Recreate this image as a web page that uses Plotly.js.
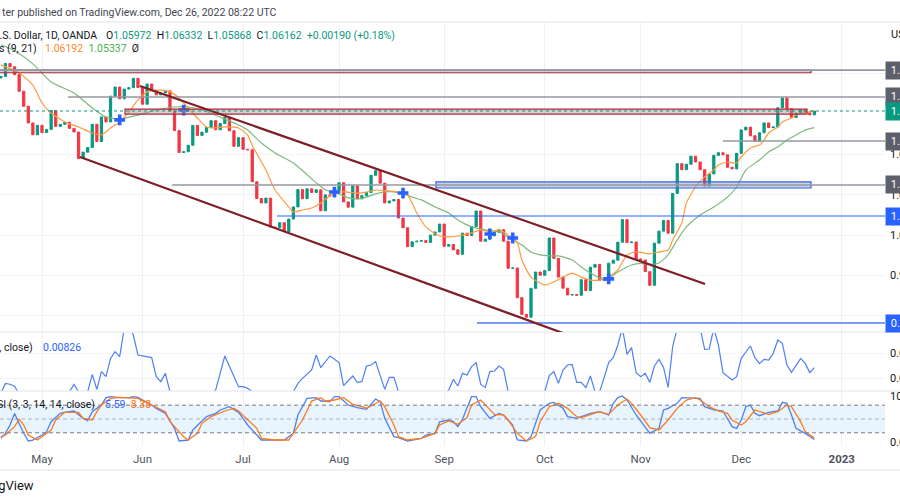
<!DOCTYPE html>
<html>
<head>
<meta charset="utf-8">
<script src="https://cdn.plot.ly/plotly-3.0.1.min.js"></script>
<style>
html, body { margin: 0; padding: 0; background: #ffffff; }
#chart { width: 900px; height: 500px; }
</style>
</head>
<body>
<div id="chart"></div>
<script>
// EUR/USD daily candles (OANDA), first bar 2022-04-18, one value per trading day
var firstDay = '2022-04-18';

var opens = [
  1.0808, 1.0780, 1.0788, 1.0852, 1.0836, 1.0797, 1.0714, 1.0640, 1.0557, 1.0498,
  1.0545, 1.0509, 1.0525, 1.0618, 1.0540, 1.0550, 1.0560, 1.0530, 1.0512, 1.0380,
  1.0412, 1.0435, 1.0550, 1.0465, 1.0587, 1.0562, 1.0690, 1.0735, 1.0677, 1.0725,
  1.0732, 1.0778, 1.0733, 1.0650, 1.0750, 1.0719, 1.0696, 1.0706, 1.0716, 1.0617,
  1.0519, 1.0410, 1.0414, 1.0446, 1.0545, 1.0495, 1.0511, 1.0535, 1.0568, 1.0523,
  1.0554, 1.0584, 1.0518, 1.0441, 1.0484, 1.0426, 1.0424, 1.0265, 1.0182, 1.0160,
  1.0184, 1.0040, 1.0037, 1.0062, 1.0018, 1.0080, 1.0140, 1.0226, 1.0181, 1.0230,
  1.0212, 1.0225, 1.0121, 1.0200, 1.0196, 1.0220, 1.0260, 1.0165, 1.0139, 1.0245,
  1.0180, 1.0196, 1.0212, 1.0297, 1.0320, 1.0258, 1.0160, 1.0170, 1.0177, 1.0085,
  1.0037, 0.9943, 0.9967, 0.9970, 0.9973, 0.9964, 1.0000, 1.0016, 1.0055, 0.9945,
  0.9954, 0.9927, 0.9905, 1.0010, 0.9998, 1.0042, 1.0120, 0.9970, 0.9980, 0.9997,
  1.0014, 1.0027, 0.9970, 0.9836, 0.9837, 0.9690, 0.9607, 0.9593, 0.9736, 0.9817,
  0.9801, 0.9824, 0.9986, 0.9885, 0.9792, 0.9737, 0.9703, 0.9705, 0.9702, 0.9779,
  0.9725, 0.9841, 0.9855, 0.9776, 0.9779, 0.9861, 0.9876, 0.9965, 1.0077, 0.9963,
  0.9966, 0.9882, 0.9877, 0.9819, 0.9751, 0.9960, 1.0020, 1.0073, 1.0010, 1.0207,
  1.0355, 1.0325, 1.0352, 1.0392, 1.0363, 1.0325, 1.0244, 1.0304, 1.0396, 1.0409,
  1.0399, 1.0337, 1.0329, 1.0406, 1.0522, 1.0536, 1.0493, 1.0466, 1.0508, 1.0557,
  1.0534, 1.0537, 1.0632, 1.0681, 1.0627, 1.0584, 1.0606, 1.0622, 1.0607, 1.05972
];
var closes = [
  1.0780, 1.0788, 1.0852, 1.0836, 1.0797, 1.0714, 1.0640, 1.0557, 1.0498, 1.0545,
  1.0509, 1.0525, 1.0618, 1.0540, 1.0550, 1.0560, 1.0530, 1.0512, 1.0380, 1.0412,
  1.0435, 1.0550, 1.0465, 1.0587, 1.0562, 1.0690, 1.0735, 1.0677, 1.0725, 1.0732,
  1.0778, 1.0733, 1.0650, 1.0750, 1.0719, 1.0696, 1.0706, 1.0716, 1.0617, 1.0519,
  1.0410, 1.0414, 1.0446, 1.0545, 1.0495, 1.0511, 1.0535, 1.0568, 1.0523, 1.0554,
  1.0584, 1.0518, 1.0441, 1.0484, 1.0426, 1.0424, 1.0265, 1.0182, 1.0160, 1.0184,
  1.0040, 1.0037, 1.0062, 1.0018, 1.0080, 1.0140, 1.0226, 1.0181, 1.0230, 1.0212,
  1.0225, 1.0121, 1.0200, 1.0196, 1.0220, 1.0260, 1.0165, 1.0139, 1.0245, 1.0180,
  1.0196, 1.0212, 1.0297, 1.0320, 1.0258, 1.0160, 1.0170, 1.0177, 1.0085, 1.0037,
  0.9943, 0.9967, 0.9970, 0.9973, 0.9964, 1.0000, 1.0016, 1.0055, 0.9945, 0.9954,
  0.9927, 0.9905, 1.0010, 0.9998, 1.0042, 1.0120, 0.9970, 0.9980, 0.9997, 1.0014,
  1.0027, 0.9970, 0.9836, 0.9837, 0.9690, 0.9607, 0.9593, 0.9736, 0.9817, 0.9801,
  0.9824, 0.9986, 0.9885, 0.9792, 0.9737, 0.9703, 0.9705, 0.9702, 0.9779, 0.9725,
  0.9841, 0.9855, 0.9776, 0.9779, 0.9861, 0.9876, 0.9965, 1.0077, 0.9963, 0.9966,
  0.9882, 0.9877, 0.9819, 0.9751, 0.9960, 1.0020, 1.0073, 1.0010, 1.0207, 1.0355,
  1.0325, 1.0352, 1.0392, 1.0363, 1.0325, 1.0244, 1.0304, 1.0396, 1.0409, 1.0399,
  1.0337, 1.0329, 1.0406, 1.0522, 1.0536, 1.0493, 1.0466, 1.0508, 1.0557, 1.0534,
  1.0537, 1.0632, 1.0681, 1.0627, 1.0584, 1.0606, 1.0622, 1.0607, 1.0597, 1.06162
];

// indicator lines: bar number (0 = first bar) and value
var ema9Bar = [1, 5, 8, 10, 12, 15, 18, 21, 23, 25, 27, 29, 31, 33, 36, 38, 40, 42, 44, 46, 48, 50, 53, 55, 56, 59, 61, 64, 65, 67, 69, 71, 73, 75, 77, 79, 81, 83, 86, 88, 90, 92, 94, 97, 99, 101, 104, 106, 108, 110, 112, 114, 115, 117, 120, 122, 124, 126, 128, 130, 132, 134, 136, 138, 140, 143, 145, 147, 148, 150, 151, 153, 155, 157, 158, 160, 162, 163, 165, 167, 168, 169, 171, 172, 174, 175, 177, 179];
var ema9Val = [1.0845, 1.0805, 1.0745, 1.0656, 1.0606, 1.0562, 1.0537, 1.0507, 1.0497, 1.0532, 1.0562, 1.0611, 1.0671, 1.0711, 1.0720, 1.0711, 1.0681, 1.0631, 1.0581, 1.0537, 1.0532, 1.0537, 1.0532, 1.0497, 1.0445, 1.0323, 1.0224, 1.0140, 1.0115, 1.0125, 1.0135, 1.0160, 1.0195, 1.0214, 1.0214, 1.0209, 1.0214, 1.0224, 1.0219, 1.0214, 1.0199, 1.0110, 1.0041, 0.9996, 0.9991, 0.9996, 1.0011, 1.0026, 1.0016, 1.0026, 1.0001, 0.9961, 0.9877, 0.9792, 0.9753, 0.9768, 0.9792, 0.9812, 0.9792, 0.9777, 0.9777, 0.9792, 0.9827, 0.9902, 0.9917, 0.9907, 0.9917, 0.9926, 0.9976, 1.0060, 1.0160, 1.0239, 1.0289, 1.0323, 1.0348, 1.0363, 1.0358, 1.0388, 1.0433, 1.0447, 1.0472, 1.0507, 1.0537, 1.0562, 1.0581, 1.0596, 1.0606, 1.06192];

var ema21Bar = [1, 4, 8, 12, 17, 21, 24, 27, 31, 35, 39, 42, 45, 49, 53, 55, 58, 61, 65, 68, 70, 72, 75, 77, 79, 81, 83, 85, 87, 89, 91, 93, 96, 99, 101, 104, 107, 110, 112, 115, 117, 119, 121, 123, 126, 128, 130, 132, 134, 136, 139, 141, 143, 145, 147, 149, 151, 154, 157, 160, 162, 164, 167, 169, 171, 173, 175, 177, 179];
var ema21Val = [1.0945, 1.0915, 1.0850, 1.0760, 1.0706, 1.0631, 1.0586, 1.0577, 1.0596, 1.0621, 1.0636, 1.0636, 1.0621, 1.0586, 1.0547, 1.0522, 1.0457, 1.0408, 1.0358, 1.0300, 1.0260, 1.0225, 1.0205, 1.0185, 1.0180, 1.0189, 1.0205, 1.0215, 1.0215, 1.0205, 1.0189, 1.0175, 1.0140, 1.0110, 1.0075, 1.0041, 1.0026, 1.0016, 0.9991, 0.9951, 0.9916, 0.9902, 0.9897, 0.9897, 0.9877, 0.9842, 0.9812, 0.9788, 0.9788, 0.9817, 0.9852, 0.9860, 0.9855, 0.9862, 0.9902, 0.9976, 1.0041, 1.0100, 1.0140, 1.0189, 1.0239, 1.0323, 1.0373, 1.0413, 1.0438, 1.0472, 1.0497, 1.0522, 1.05337];

// EMA cross marks
var crossBar = [27, 41, 74, 89, 108, 113, 134];
var crossVal = [1.0572, 1.0621, 1.0214, 1.0209, 1.0006, 0.9986, 0.9783];

// Mom (10, close); values outside the pane are clipped
var momBar = [0, 1, 2, 3, 4, 5, 10, 16, 17, 18, 19, 20, 21, 22, 23, 24, 25, 26, 27, 28, 29, 30, 31, 32, 33, 34, 35, 36, 37, 38, 39, 43, 47, 48, 50, 53, 54, 55, 56, 57, 60, 64, 65, 66, 67, 69, 70, 71, 73, 75, 76, 78, 79, 80, 81, 82, 83, 84, 85, 86, 87, 88, 89, 93, 98, 99, 100, 101, 102, 103, 104, 105, 106, 107, 108, 109, 110, 111, 112, 113, 116, 119, 120, 121, 122, 123, 124, 125, 126, 127, 128, 129, 130, 131, 132, 133, 134, 135, 136, 137, 138, 139, 140, 141, 142, 143, 144, 145, 146, 147, 148, 149, 151, 153, 154, 155, 156, 157, 158, 159, 161, 162, 163, 165, 166, 167, 168, 169, 170, 171, 172, 173, 174, 176, 177, 178, 179];
var momVal = [-0.013, -0.012, -0.0043, -0.005, -0.0065, -0.013, -0.014, -0.011, -0.0051, -0.011, -0.013, -0.011, 0.0029, -0.009, 0.0051, 0.0011, 0.0157, 0.0211, 0.0171, 0.04, 0.045, 0.034, 0.0184, 0.0178, 0.0171, 0.0163, 0.0011, -0.0029, 0.0037, -0.011, -0.013, -0.015, -0.013, -0.0096, 0.0176, -0.0069, -0.0069, -0.0083, -0.011, -0.014, -0.02, -0.014, -0.011, -0.0043, -0.0003, 0.0064, 0.0184, 0.0083, 0.0176, 0.0123, -0.0061, 0.0016, -0.0035, -0.0029, 0.0096, 0.0104, 0.0131, 0.0011, -0.0091, 0.0005, 0.0005, -0.011, -0.014, -0.02, -0.013, -0.0096, -0.0011, -0.0064, 0.0037, 0.0024, 0.0091, 0.0123, -0.0051, -0.0075, 0.0051, 0.0056, 0.0096, 0.0069, -0.011, -0.014, -0.03, -0.014, -0.011, 0.0019, 0.0051, -0.0043, 0.0064, 0.0104, 0.0109, -0.0035, -0.0035, -0.0077, 0.0016, -0.011, -0.011, 0.0003, 0.0123, 0.0163, 0.0264, 0.04, 0.0189, 0.0243, 0.0043, 0.0011, 0.0037, -0.0035, 0.0096, 0.0149, 0.0085, -0.0075, 0.0251, 0.04, 0.05, 0.045, 0.04, 0.0229, 0.0232, 0.04, 0.0264, 0.0043, -0.0016, 0.0011, 0.0157, 0.0256, 0.0163, 0.0115, 0.0149, 0.0144, 0.0197, 0.0304, 0.0277, 0.0104, 0.0045, 0.0157, 0.0117, 0.0043, 0.00826];

// Stoch RSI (3, 3, 14, 14, close)
var kBar = [1, 2, 3, 4, 5, 6, 7, 8, 10, 11, 12, 14, 15, 17, 19, 20, 21, 23, 24, 25, 27, 29, 30, 31, 34, 35, 37, 39, 40, 42, 43, 45, 46, 48, 49, 51, 53, 54, 55, 57, 58, 61, 63, 65, 66, 68, 70, 71, 73, 74, 75, 77, 79, 81, 83, 84, 85, 87, 88, 90, 93, 94, 96, 97, 99, 100, 101, 102, 103, 104, 105, 106, 108, 110, 111, 113, 114, 116, 117, 118, 119, 121, 122, 124, 125, 127, 128, 130, 132, 134, 135, 136, 137, 138, 140, 142, 143, 145, 146, 147, 149, 150, 152, 154, 155, 157, 159, 160, 161, 162, 163, 164, 165, 166, 167, 169, 171, 172, 173, 174, 175, 177, 178, 179];
var kVal = [8, 18.8, 37, 62, 40, 19, 2.2, 4.3, 15.2, 22.5, 44.2, 62.3, 64.5, 67.4, 51.4, 46.4, 65.9, 80.4, 96.4, 98.6, 96.4, 96.4, 98.6, 97.1, 80.4, 73.2, 62.3, 29.7, 2.2, 4.3, 26.1, 44.2, 55.1, 62.3, 69.6, 76.8, 64.5, 51.4, 37, 15.2, 4.3, 4.3, 4.3, 18.8, 58.7, 94.9, 96.4, 89.1, 87.7, 98.6, 98.6, 80.4, 74.6, 71, 93.5, 87.7, 51.4, 11.6, 9.4, 2.2, 8, 15.2, 18.8, 44, 47.8, 44.2, 33.3, 49.3, 73.2, 98.6, 98.6, 76.8, 51.4, 62.3, 58.7, 37, 4.3, 2.2, 11.6, 40.6, 69.6, 84.1, 86.2, 73.2, 55.1, 51.4, 55.1, 62.3, 65.9, 58.7, 84.1, 96.4, 100, 91.3, 58.7, 33.3, 18.8, 29.7, 69.6, 73.2, 84.1, 96.4, 96.4, 94.9, 76.8, 69.6, 67.4, 51.4, 33.3, 29.7, 47.8, 76.8, 80.4, 62.3, 57.2, 64.5, 67.4, 86.2, 84.1, 58.7, 29.7, 18.8, 11.6, 5.59];
var dBar = [1, 2, 4, 5, 6, 7, 9, 10, 12, 13, 15, 18, 19, 21, 22, 23, 25, 27, 30, 31, 34, 37, 38, 41, 42, 44, 45, 47, 50, 52, 53, 55, 57, 58, 61, 64, 65, 67, 69, 71, 72, 74, 76, 78, 80, 81, 84, 85, 87, 88, 90, 93, 96, 97, 99, 100, 101, 103, 104, 106, 107, 109, 111, 112, 114, 116, 118, 119, 121, 123, 125, 127, 128, 130, 132, 134, 136, 138, 139, 141, 143, 145, 147, 149, 151, 153, 154, 156, 158, 160, 161, 163, 164, 166, 167, 169, 171, 173, 174, 176, 177, 179];
var dVal = [11.6, 15.2, 33.3, 49.3, 37, 15.2, 4.3, 11.6, 26.1, 47.8, 64.5, 64.5, 51.4, 47.8, 65.9, 80.4, 94.9, 97.1, 96.4, 94.9, 80.4, 65.9, 44.2, 11.6, 4.3, 18.8, 40.6, 55.1, 67.4, 73.2, 67.4, 47.8, 29.7, 8, 4.3, 4.3, 18.8, 47.8, 89.1, 96.4, 89.1, 91.3, 96.4, 81.9, 76.8, 73.2, 89.1, 76.8, 37, 11.6, 4.3, 8, 18.8, 37, 45.7, 42, 38.4, 52.9, 80.4, 91.3, 80.4, 60.1, 58.7, 47.8, 18.8, 2.2, 11.6, 44.2, 76.8, 84.1, 73.2, 55.1, 52.9, 58.7, 65.9, 60.1, 80.4, 93.5, 84.1, 58.7, 31.2, 26.1, 47.8, 73.2, 91.3, 96.4, 91.3, 76.8, 67.4, 62.3, 47.8, 37, 44.2, 69.6, 65.9, 60.1, 65.9, 80.4, 76.8, 44.2, 22.5, 8.38];

// month labels under the chart
var monthTicks = ['2022-05-02', '2022-06-01', '2022-07-01', '2022-08-01', '2022-09-01', '2022-10-03', '2022-11-01', '2022-12-01', '2023-01-02'];
var monthLabels = ['May', 'Jun', 'Jul', 'Aug', 'Sep', 'Oct', 'Nov', 'Dec', '<b>2023</b>'];

// price scale labels (the ones hidden behind tags are left blank)
var priceTicks = [0.96, 0.98, 1.00, 1.02, 1.04, 1.08];
var priceTickText = ['', '0.98000', '1.00000', '1.02000', '1.04000', ''];

// drawn levels and trend lines (price values)
var topZone = [1.0806, 1.0819];
var redZone = [1.0601, 1.0626];
var blueZone = [1.0234, 1.0264];
var greyLevels = [1.0819, 1.0686, 1.0467, 1.0249];
var greyStarts = ['2022-04-10', '2022-05-10 04:30', '2022-11-25 12:00', '2022-06-09 22:48'];
var blueLevels = [1.0095, 0.9564];
var blueStarts = ['2022-07-12 22:00', '2022-09-12 16:30'];
var channelTop = [['2022-05-31 22:30', 1.0740], ['2022-11-21 14:00', 0.9758]];
var channelBottom = [['2022-05-12 19:30', 1.0388], ['2022-10-07 12:00', 0.9514]];
var lastClose = 1.06162;

function tradingDays(start, n) {
  var out = [];
  var d = new Date(start + 'T12:00:00Z');
  while (out.length < n) {
    var wd = d.getUTCDay();
    if (wd !== 0 && wd !== 6) out.push(d.toISOString().slice(0, 10) + ' 12:00');
    d.setUTCDate(d.getUTCDate() + 1);
  }
  return out;
}
var days = tradingDays(firstDay, closes.length);
function onDays(bars) { return bars.map(function (b) { return days[b]; }); }

var highs = opens.map(function (o, i) { return Math.max(o, closes[i]); });
var lows = opens.map(function (o, i) { return Math.min(o, closes[i]); });

var GREEN = '#089981', RED = '#f23645', BLUE = '#2962ff';
var FONT = 'Roboto, "Liberation Sans", sans-serif';

var candles = {
  type: 'candlestick', x: days, open: opens, high: highs, low: lows, close: closes,
  xaxis: 'x', yaxis: 'y', hoverinfo: 'skip',
  increasing: { line: { color: GREEN, width: 1 }, fillcolor: GREEN },
  decreasing: { line: { color: RED, width: 1 }, fillcolor: RED }
};
var ema21 = { type: 'scatter', mode: 'lines', x: onDays(ema21Bar), y: ema21Val, xaxis: 'x', yaxis: 'y',
  line: { color: '#7cb97c', width: 1.2, shape: 'spline', smoothing: 0.6 } };
var ema9 = { type: 'scatter', mode: 'lines', x: onDays(ema9Bar), y: ema9Val, xaxis: 'x', yaxis: 'y',
  line: { color: '#ff9a40', width: 1.2, shape: 'spline', smoothing: 0.6 } };
var crosses = { type: 'scatter', mode: 'markers', x: onDays(crossBar), y: crossVal, xaxis: 'x', yaxis: 'y',
  marker: { symbol: 'cross', size: 9, color: BLUE } };
var mom = { type: 'scatter', mode: 'lines', x: onDays(momBar), y: momVal, xaxis: 'x2', yaxis: 'y2',
  line: { color: '#4f7ff5', width: 1.2 } };
var stochK = { type: 'scatter', mode: 'lines', x: onDays(kBar), y: kVal, xaxis: 'x3', yaxis: 'y3',
  line: { color: '#4f7ff5', width: 1.3 } };
var stochD = { type: 'scatter', mode: 'lines', x: onDays(dBar), y: dVal, xaxis: 'x3', yaxis: 'y3',
  line: { color: '#ff7a1a', width: 1.3 } };

function px(x) { return x / 900; }
function py(y) { return 1 - y / 500; }
var plotRight = px(885);
var xRange = ['2022-04-19 07:26', '2023-01-13 23:00'];
var tickDates = monthTicks.map(function (d) { return d + ' 12:00'; });

function xAxis(anchor, labels) {
  return {
    domain: [0, plotRight], range: xRange, anchor: anchor, type: 'date',
    rangebreaks: [{ bounds: ['sat', 'mon'] }],
    tickmode: 'array', tickvals: tickDates, ticktext: monthLabels,
    showticklabels: labels, ticks: '', ticklabelstandoff: 4,
    showgrid: true, gridcolor: '#eef0f5', gridwidth: 1,
    zeroline: false, showline: false, fixedrange: true,
    rangeslider: { visible: false },
    tickfont: { family: FONT, size: 11.5, color: '#50535e' }
  };
}
function yAxis(domain, range, anchor, vals, txt, grid) {
  return {
    domain: domain, range: range, side: 'right', anchor: anchor,
    tickmode: 'array', tickvals: vals, ticktext: txt, ticklabelstandoff: 4,
    showgrid: grid, gridcolor: '#f2f3f7', zeroline: false, showline: false, ticks: '', fixedrange: true,
    tickfont: { family: FONT, size: 11, color: '#131722' }
  };
}

var shapes = [];
function line(x0, y0, x1, y1, color, width, dash, xref, yref) {
  shapes.push({ type: 'line', xref: xref || 'x', yref: yref || 'y', x0: x0, y0: y0, x1: x1, y1: y1,
    line: { color: color, width: width, dash: dash || 'solid' } });
}
function zone(x0, x1, ys, border) {
  shapes.push({ type: 'rect', xref: 'x', yref: 'y', x0: x0, x1: x1, y0: ys[0], y1: ys[1],
    fillcolor: 'rgba(150,153,163,0.45)', line: { color: border, width: 1.2 } });
}

// pane frames
[22, 332, 391, 470].forEach(function (y) {
  line(0, py(y), 1, py(y), '#e0e3eb', 1, 'solid', 'paper', 'paper');
});

// stoch band
shapes.push({ type: 'rect', xref: 'x3 domain', yref: 'y3', x0: 0, x1: 1, y0: 20, y1: 80,
  fillcolor: 'rgba(33,150,243,0.10)', line: { width: 0 }, layer: 'below' });
line(0, 80, 1, 80, '#787b86', 1, '4px,3px', 'x3 domain', 'y3');
line(0, 50, 1, 50, 'rgba(120,123,134,0.55)', 1, '4px,3px', 'x3 domain', 'y3');
line(0, 20, 1, 20, '#787b86', 1, '4px,3px', 'x3 domain', 'y3');

// drawings on the price pane
var farRight = '2023-01-31';
zone('2022-04-10', '2022-12-22 18:30', topZone, '#b22833');
zone('2022-05-26 16:00', '2022-12-21 21:36', redZone, '#b22833');
zone('2022-08-30 16:48', '2022-12-22 18:30', blueZone, BLUE);
greyLevels.forEach(function (p, i) { line(greyStarts[i], p, farRight, p, '#9598a1', 1.6); });
line(blueStarts[0], blueLevels[0], farRight, blueLevels[0], BLUE, 1.2);
line(blueStarts[1], blueLevels[1], farRight, blueLevels[1], '#7b9cf5', 2);
line(channelTop[0][0], channelTop[0][1], channelTop[1][0], channelTop[1][1], '#7d1f27', 2.2);
line(channelBottom[0][0], channelBottom[0][1], channelBottom[1][0], channelBottom[1][1], '#7d1f27', 2.2);
line(0, lastClose, 1, lastClose, GREEN, 1, 'dot', 'x domain', 'y');

var annotations = [];
function text(x, y, t, opts) {
  var a = { xref: 'paper', yref: 'paper', x: px(x), y: py(y), text: t, showarrow: false,
    xanchor: 'left', yanchor: 'middle', font: { family: FONT, size: 10.5, color: '#131722' } };
  for (var k in opts) a[k] = opts[k];
  annotations.push(a);
}
function col(c, t) { return '<span style="color:' + c + '">' + t + '</span>'; }
var sp = '\u00a0\u00a0';

text(0, 12, 'ter published on TradingView.com, Dec 26, 2022 08:22 UTC', { font: { family: FONT, size: 10.5, color: '#434651' } });
text(99, 35, 'Euro / U.S. Dollar, 1D, OANDA', { xanchor: 'right' });
text(104, 35, 'O' + col(GREEN, '1.05972') + sp + 'H' + col(GREEN, '1.06332') + sp + 'L' + col(GREEN, '1.05868') + sp + 'C' + col(GREEN, '1.06162') + sp + col(GREEN, '+0.00190 (+0.18%)'));
text(39, 49, 'EMAs (9, 21)', { xanchor: 'right' });
text(43, 49, col('#ff8a1f', '1.06192') + sp + col('#4caf50', '1.05337') + sp + 'Ø');
text(35, 347, 'Mom (10, close)', { xanchor: 'right' });
text(41, 347, col(BLUE, '0.00826'));
text(97, 404, 'Stoch RSI (3, 3, 14, 14, close)', { xanchor: 'right' });
text(103, 404, col(BLUE, '5.59') + sp + col('#ff6d00', '8.38'));
text(36, 485, 'TradingView', { xanchor: 'right', font: { family: FONT, size: 13, color: '#131722' } });
text(889, 34, 'USD', { font: { family: FONT, size: 11, color: '#131722' } });

// price tags on the right scale
var tagPrices = [1.0819, 1.0686, lastClose, 1.0467, 1.0249, blueLevels[0], blueLevels[1]];
var tagColors = ['#5d606b', '#5d606b', GREEN, '#5d606b', '#5d606b', BLUE, BLUE];
tagPrices.forEach(function (p, i) {
  annotations.push({ xref: 'paper', yref: 'y', x: plotRight, y: p, xanchor: 'left', yanchor: 'middle',
    text: '\u00a0' + p.toFixed(5), showarrow: false, bgcolor: tagColors[i], borderpad: 2,
    font: { family: FONT, size: 11, color: '#ffffff' } });
});

var layout = {
  width: 900, height: 500,
  margin: { l: 0, r: 0, t: 0, b: 0 },
  paper_bgcolor: '#ffffff', plot_bgcolor: '#ffffff',
  showlegend: false,
  xaxis: xAxis('y', false),
  xaxis2: xAxis('y2', false),
  xaxis3: xAxis('y3', true),
  yaxis: yAxis([py(332), py(22)], [0.95194, 1.10579], 'x', priceTicks, priceTickText, true),
  yaxis2: yAxis([py(391), py(333)], [-0.0104, 0.036], 'x2', [0, 0.02], ['0.00000', '0.02000'], true),
  yaxis3: yAxis([py(446), py(392)], [-8.7, 108.7], 'x3', [0, 100], ['0.00', '100.00'], false),
  shapes: shapes,
  annotations: annotations
};

Plotly.newPlot('chart', [candles, ema21, ema9, crosses, mom, stochK, stochD], layout,
  { staticPlot: true, displayModeBar: false });
</script>
</body>
</html>
